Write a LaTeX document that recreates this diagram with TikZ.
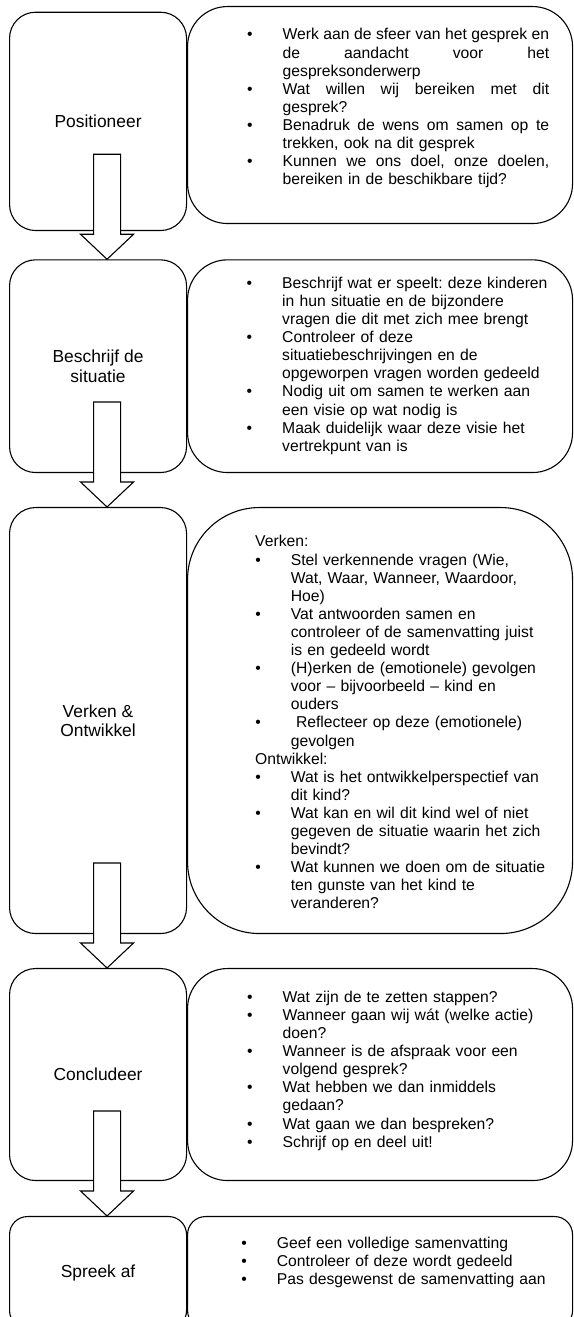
\documentclass[tikz,border=0pt]{standalone}
\usepackage{fontspec}
\setmainfont{Liberation Sans}
\frenchspacing
\newcommand{\itm}{\par\noindent\llap{\textbullet\hspace{30pt}}}
\newcommand{\hd}[1]{\par\noindent\hspace*{-35.6pt}#1}
\newcommand{\jl}[1]{\leavevmode\hbox to 266.5pt{#1}}
\begin{document}
\begin{tikzpicture}[x=1pt,y=1pt,
    stagebox/.style={draw,line width=1.1pt,fill=white,rounded corners=26pt,minimum width=177pt,
      inner sep=0pt,align=center,anchor=north west,font=\fontsize{17.4}{19.4}\selectfont},
    notebox/.style={draw,line width=1.1pt,fill=white,minimum width=385pt,inner sep=0pt,anchor=north west},
    notes/.style={inner sep=0pt,anchor=base west,text width=#1,align=left,
      font=\fontsize{15.7}{18.1}\selectfont},
    notes/.default=280pt,
    flowarrow/.style={draw,line width=1.1pt,fill=white}]
\useasboundingbox (0,0) rectangle (573,1317);
\clip (0,0) rectangle (573,1317);
\node[stagebox,minimum height=218.3pt] (posL) at (9,1305.3) {Positioneer};
\node[notebox,minimum height=217pt,rounded corners=40pt] (posR) at (187,1311) {};
\node[stagebox,minimum height=212.7pt] (sitL) at (9,1057.7) {Beschrijf de\\situatie};
\node[notebox,minimum height=212.7pt,rounded corners=40pt] (sitR) at (187,1057.7) {};
\node[stagebox,minimum height=426pt] (verkL) at (9,810) {Verken \&\\Ontwikkel};
\node[notebox,minimum height=426pt,rounded corners=72pt] (verkR) at (187,810) {};
\node[stagebox,minimum height=212pt] (conclL) at (9,349) {Concludeer};
\node[notebox,minimum height=212pt,rounded corners=40pt] (conclR) at (187,349) {};
\node[stagebox,minimum height=112pt,rounded corners=18pt] (afL) at (9,101) {Spreek af};
\node[notebox,minimum height=112pt,rounded corners=18pt] (afR) at (187,101) {};
\foreach \nx in {sitL,verkL,conclL,afL}
  \draw[flowarrow] ([xshift=9pt]\nx.north) -- ++(-26.5,25) -- ++(13,0) -- ++(0,80)
    -- ++(27,0) -- ++(0,-80) -- ++(13,0) -- cycle;
\node[notes=266.5pt] (posT) at (282.5,1295.1) {%
  \itm\jl{Werk\hss aan\hss de\hss sfeer\hss van\hss het\hss gesprek\hss en}\\
  \jl{de\hss aandacht\hss voor\hss het}\\
  gespreksonderwerp
  \itm\jl{Wat\hss willen\hss wij\hss bereiken\hss met\hss dit}\\
  gesprek?
  \itm\jl{Benadruk\hss de\hss wens\hss om\hss samen\hss op\hss te}\\
  trekken, ook na dit gesprek
  \itm\jl{Kunnen\hss we\hss ons\hss doel,\hss onze\hss doelen,}\\
  bereiken in de beschikbare tijd?};
\node[notes] (sitT) at (282,1046.7) {%
  \itm Beschrijf wat er speelt: deze kinderen\\ in hun situatie en de bijzondere\\ vragen die dit met zich mee brengt
  \itm Controleer of deze\\ situatiebeschrijvingen en de\\ opgeworpen vragen worden gedeeld
  \itm Nodig uit om samen te werken aan\\ een visie op wat nodig is
  \itm Maak duidelijk waar deze visie het\\ vertrekpunt van is};
\node[notes] (verkT) at (290.6,788.1) {%
  \hd{Verken:}
  \itm Stel verkennende vragen (Wie,\\ Wat, Waar, Wanneer, Waardoor,\\ Hoe)
  \itm Vat antwoorden samen en\\ controleer of de samenvatting juist\\ is en gedeeld wordt
  \itm (H)erken de (emotionele) gevolgen\\ voor – bijvoorbeeld – kind en\\ ouders
  \itm\ Reflecteer op deze (emotionele)\\ gevolgen
  \hd{Ontwikkel:}
  \itm Wat is het ontwikkelperspectief van\\ dit kind?
  \itm Wat kan en wil dit kind wel of niet\\ gegeven de situatie waarin het zich\\ bevindt?
  \itm Wat kunnen we doen om de situatie\\ ten gunste van het kind te\\ veranderen?};
\node[notes] (conclT) at (282.5,332.7) {%
  \itm Wat zijn de te zetten stappen?
  \itm Wanneer gaan wij wát (welke actie)\\ doen?
  \itm Wanneer is de afspraak voor een\\ volgend gesprek?
  \itm Wat hebben we dan inmiddels\\ gedaan?
  \itm Wat gaan we dan bespreken?
  \itm Schrijf op en deel uit!};
\node[notes] (afT) at (276.7,86.7) {%
  \itm Geef een volledige samenvatting
  \itm Controleer of deze wordt gedeeld
  \itm Pas desgewenst de samenvatting aan};
\end{tikzpicture}
\end{document}
